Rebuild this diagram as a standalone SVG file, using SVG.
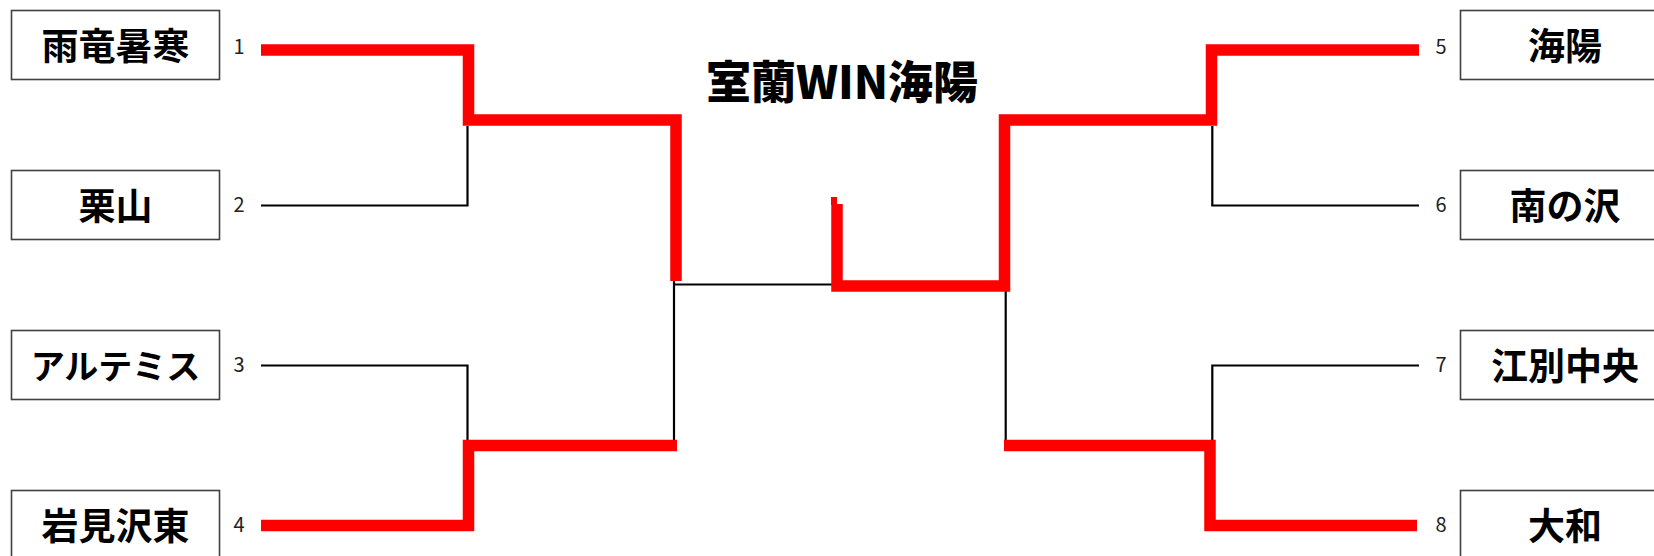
<svg xmlns="http://www.w3.org/2000/svg" width="1654" height="556" viewBox="0 0 1654 556">
<style>
.box{fill:#fff;stroke:#404040;stroke-width:1.6}
.lbl{font-family:"Noto Sans CJK JP","Noto Sans CJK SC",sans-serif;font-weight:700;font-size:37px;fill:#000;text-anchor:middle}
.num{font-family:"Noto Sans CJK JP","Noto Sans",sans-serif;font-weight:400;font-size:20px;fill:#222;text-anchor:middle}
.blk{fill:none;stroke:#000;stroke-width:2.2}
.red{fill:none;stroke:#ff0000;stroke-width:11.5;stroke-linejoin:miter;stroke-linecap:butt}
.title{font-family:"Noto Sans CJK JP","Noto Sans CJK SC",sans-serif;font-weight:900;font-size:45px;fill:#000;text-anchor:middle}
</style>
<rect width="1654" height="556" fill="#fff"/>
<g id="connectors">
<path class="blk" d="M261,205.5 H467.5 V126"/>
<path class="blk" d="M261,365.5 H467.5 V441"/>
<path class="blk" d="M674,281 V441 M674,284.5 H832"/>
<path class="blk" d="M1005.7,291 V441"/>
<path class="blk" d="M1419,205.5 H1212.3 V126"/>
<path class="blk" d="M1419,365.5 H1212.3 V441"/>
<path class="red" d="M261,50 H468.5 V120 H676 V281"/>
<path class="red" d="M261,525.5 H468.5 V445.5 H677"/>
<path class="red" d="M837,204 V286 H1004.5 V120 H1211.5 V50 H1419"/>
<rect x="831" y="197" width="6" height="8" fill="#ff0000"/>
<path class="red" d="M1004,445.5 H1210 V525.5 H1417"/>
</g>
<g id="title"><text class="title" x="842" y="99">室蘭WIN海陽</text></g>
<g id="team1"><rect class="box" x="11.5" y="10.5" width="208" height="69"/><text class="lbl" x="115.5" y="60">雨竜暑寒</text><text class="num" x="239" y="54">1</text></g>
<g id="team2"><rect class="box" x="11.5" y="170.5" width="208" height="69"/><text class="lbl" x="115.5" y="220">栗山</text><text class="num" x="239" y="212">2</text></g>
<g id="team3"><rect class="box" x="11.5" y="330.5" width="208" height="69"/><text class="lbl" x="115.5" y="379" style="font-size:34px">アルテミス</text><text class="num" x="239" y="372">3</text></g>
<g id="team4"><rect class="box" x="11.5" y="490.5" width="208" height="69"/><text class="lbl" x="115.5" y="540">岩見沢東</text><text class="num" x="239" y="532">4</text></g>
<g id="team5"><rect class="box" x="1460.5" y="10.5" width="208" height="69"/><text class="lbl" x="1565" y="60">海陽</text><text class="num" x="1441" y="54">5</text></g>
<g id="team6"><rect class="box" x="1460.5" y="170.5" width="208" height="69"/><text class="lbl" x="1565" y="220">南の沢</text><text class="num" x="1441" y="212">6</text></g>
<g id="team7"><rect class="box" x="1460.5" y="330.5" width="208" height="69"/><text class="lbl" x="1565" y="380">江別中央</text><text class="num" x="1441" y="372">7</text></g>
<g id="team8"><rect class="box" x="1460.5" y="490.5" width="208" height="69"/><text class="lbl" x="1565" y="540">大和</text><text class="num" x="1441" y="532">8</text></g>
</svg>
